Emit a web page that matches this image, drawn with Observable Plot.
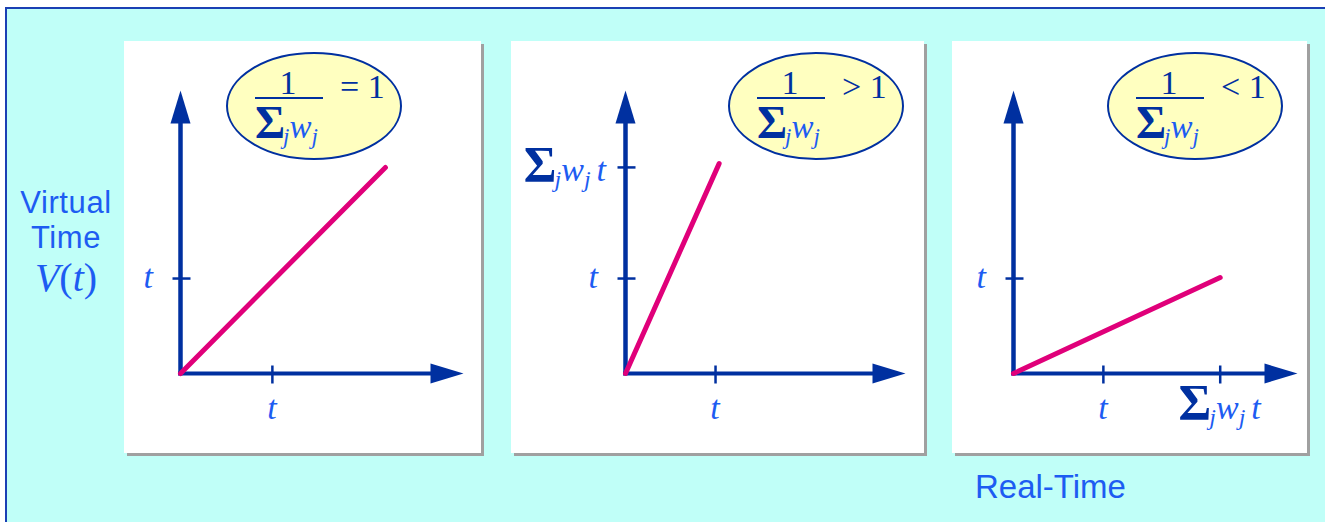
<!DOCTYPE html>
<html>
<head>
<meta charset="utf-8">
<script src="https://cdn.jsdelivr.net/npm/d3@7"></script>
<script src="https://cdn.jsdelivr.net/npm/@observablehq/plot@0.6"></script>
<style>
  html, body { margin: 0; padding: 0; background: #ffffff; width: 1325px; height: 522px; overflow: hidden; }
  #frame { position: absolute; left: 5px; top: 7px; width: 1320px; height: 515px; background: #c0fff8;
           border-top: 2px solid #1a40b4; border-left: 2px solid #1a40b4; box-sizing: border-box; }
  .panel { position: absolute; top: 41px; height: 412px; background: #ffffff; box-shadow: 3px 3px 0 #a0a0a0; }
  .panel svg { display: block; overflow: visible; }
  .ttl { position: absolute; font-family: "Liberation Sans", Arial, sans-serif; font-size: 31px; line-height: 35px;
         letter-spacing: 0.6px; color: #1d5cf2; text-align: center; white-space: nowrap; }
  .ttl.wide { font-size: 33px; line-height: 33px; letter-spacing: 0; }
  .ttl.math { font-family: "Liberation Serif", "Times New Roman", serif; font-size: 40px; line-height: 40px; letter-spacing: 0; }
</style>
</head>
<body>
<div id="frame"></div>
<div id="root"></div>
<script>
// ---------------- data ----------------
const panelNames = ["equal", "greater", "less"];
const relationLabels = ["= 1", "> 1", "< 1"];
const fractionNumerator = "1";
const fractionDenominator = "Σ_jw_j";
// virtual-time line end points, in units of t
const lineEndX = [2.23, 1.04, 2.30];
const lineEndY = [2.17, 2.21, 1.01];
// axis extents (arrow tips), in units of t
const xAxisEnd = [3.08, 3.11, 3.16];
const yAxisEnd = [2.98, 2.98, 2.98];
// ticks
const xTickValues = [[1], [1], [1, 2.30]];
const xTickLabels = [["t"], ["t"], ["t", "Σ_jw_j t"]];
const yTickValues = [[1], [1, 2.17], [1]];
const yTickLabels = [["t"], ["t", "Σ_jw_j t"], ["t"]];
// titles
const yAxisTitle = ["Virtual", "Time"];
const yAxisSymbol = "V(t)";
const xAxisTitle = "Real-Time";

// ---------------- style / layout ----------------
const NAVY = "#0030a0", BLUE = "#1d5cf2", PINK = "#e0007a";
const SERIF = "'Liberation Serif', 'Times New Roman', serif";
const PANEL_TOP = 41, PANEL_H = 412, MT = 49, MB = 80;
const layout = [
  {left: 124, width: 357, originX: 56, tipX: 339, ell: [190, 65]},
  {left: 511, width: 413, originX: 114, tipX: 394, ell: [305, 65]},
  {left: 952, width: 355, originX: 61, tipX: 345, ell: [243, 65]}
];

// custom symbols
const upHead = {draw(c) { c.moveTo(0, 0); c.lineTo(10, 33); c.lineTo(-10, 33); c.closePath(); }};
const rightHead = {draw(c) { c.moveTo(0, 0); c.lineTo(-33, -10); c.lineTo(-33, 10); c.closePath(); }};
const vTick = {draw(c) { c.moveTo(0, -8); c.lineTo(0, 10); }};
const hTick = {draw(c) { c.moveTo(-8, 0); c.lineTo(10, 0); }};

function appendMath(text, s, sz) {
  let shifted = false, pendingDx = 0;
  for (let i = 0; i < s.length; i++) {
    let ch = s[i], sub = false;
    if (ch === " ") { pendingDx += sz.space; continue; }
    if (ch === "_") { sub = true; ch = s[++i]; }
    const ts = text.append("tspan").text(ch);
    let dy = 0;
    if (sub && !shifted) { dy = sz.shift; shifted = true; }
    else if (!sub && shifted) { dy = -sz.shift; shifted = false; }
    if (dy) ts.attr("dy", dy);
    if (ch === "Σ") ts.attr("font-size", sz.sigma).attr("fill", NAVY).attr("font-style", "normal").attr("font-weight", "bold");
    else if (/[a-z]/.test(ch)) ts.attr("font-size", sub ? sz.sub : sz.main).attr("font-style", "italic").attr("fill", BLUE);
    else ts.attr("font-size", sz.main).attr("fill", NAVY).attr("font-style", "normal");
    let dx = pendingDx;
    if (sub && i >= 2 && s[i - 2] === "Σ") dx += sz.afterSigma;
    if (dx) ts.attr("dx", dx);
    pendingDx = 0;
  }
}

const labelSize = {sigma: 50, main: 34, sub: 24, shift: 6, space: 6, afterSigma: -2};
const fracSize = {sigma: 46, main: 33, sub: 23, shift: 6, space: 5, afterSigma: -2};

function tickLabels(values, labels, axis) {
  return (index, scales) => {
    const g = d3.create("svg:g").attr("font-family", SERIF);
    values.forEach((v, k) => {
      const lab = labels[k];
      const t = g.append("text");
      if (axis === "x") {
        t.attr("x", scales.x(v)).attr("y", scales.y(0) + 46).attr("text-anchor", "middle");
      } else {
        const rich = lab.includes("Σ");
        t.attr("x", scales.x(0) - (rich ? 19 : 27)).attr("y", scales.y(v) + (rich ? 14 : 10)).attr("text-anchor", "end");
      }
      appendMath(t, lab, labelSize);
    });
    return g.node();
  };
}

function ratioBadge(i) {
  return () => {
    const [cx, cy] = layout[i].ell;
    const g = d3.create("svg:g").attr("font-family", SERIF).attr("text-anchor", "start");
    g.append("ellipse").attr("cx", cx).attr("cy", cy).attr("rx", 87).attr("ry", 53)
      .attr("fill", "#ffffc0").attr("stroke", NAVY).attr("stroke-width", 2);
    g.append("text").attr("x", cx - 26).attr("y", cy - 12).attr("text-anchor", "middle")
      .attr("font-size", 34).attr("fill", NAVY).text(fractionNumerator);
    g.append("line").attr("x1", cx - 59).attr("x2", cx + 9).attr("y1", cy - 8).attr("y2", cy - 8)
      .attr("stroke", NAVY).attr("stroke-width", 2);
    const den = g.append("text").attr("x", cx - 59).attr("y", cy + 32).attr("text-anchor", "start");
    appendMath(den, fractionDenominator, fracSize);
    g.append("text").attr("x", cx + 26).attr("y", cy - 8).attr("text-anchor", "start")
      .attr("font-size", 34).attr("fill", NAVY)
      .style("white-space", "pre").text(relationLabels[i]);
    return g.node();
  };
}

const root = document.getElementById("root");
panelNames.forEach((name, i) => {
  const L = layout[i];
  const unitY = (PANEL_H - MT - MB) / yAxisEnd[i];
  const unitX = (L.tipX - L.originX) / xAxisEnd[i];
  const div = document.createElement("div");
  div.className = "panel";
  div.style.left = L.left + "px";
  div.style.width = L.width + "px";
  const chart = Plot.plot({
    width: L.width,
    height: PANEL_H,
    marginLeft: L.originX,
    marginRight: L.width - L.tipX,
    marginTop: MT,
    marginBottom: MB,
    x: {domain: [0, xAxisEnd[i]], axis: null},
    y: {domain: [0, yAxisEnd[i]], axis: null},
    style: {background: "transparent", overflow: "visible"},
    marks: [
      Plot.ruleX([0], {y1: 0, y2: yAxisEnd[i] - 25 / unitY, stroke: NAVY, strokeWidth: 4.5, strokeLinecap: "square"}),
      Plot.ruleY([0], {x1: 0, x2: xAxisEnd[i] - 25 / unitX, stroke: NAVY, strokeWidth: 4, strokeLinecap: "square"}),
      Plot.dot([yAxisEnd[i]], {x: 0, y: d => d, symbol: upHead, fill: NAVY, stroke: "none"}),
      Plot.dot([xAxisEnd[i]], {x: d => d, y: 0, symbol: rightHead, fill: NAVY, stroke: "none"}),
      Plot.dot(xTickValues[i], {x: d => d, y: 0, symbol: vTick, fill: "none", stroke: NAVY, strokeWidth: 2.5}),
      Plot.dot(yTickValues[i], {x: 0, y: d => d, symbol: hTick, fill: "none", stroke: NAVY, strokeWidth: 2.5}),
      Plot.line([[0, 0], [lineEndX[i], lineEndY[i]]], {stroke: PINK, strokeWidth: 5, strokeLinecap: "round"}),
      tickLabels(xTickValues[i], xTickLabels[i], "x"),
      tickLabels(yTickValues[i], yTickLabels[i], "y"),
      ratioBadge(i)
    ]
  });
  div.appendChild(chart);
  root.appendChild(div);
});

// axis titles
function addTitle(html, cls, left, top, width) {
  const d = document.createElement("div");
  d.className = cls;
  d.style.left = left + "px"; d.style.top = top + "px";
  if (width) d.style.width = width + "px";
  d.innerHTML = html;
  root.appendChild(d);
}
addTitle(yAxisTitle.join("<br>"), "ttl", 16, 185, 100);
addTitle(yAxisSymbol.replace(/([A-Za-z])/g, "<i>$1</i>"), "ttl math", 16, 258, 100);
addTitle(xAxisTitle, "ttl wide", 975, 470);
</script>
</body>
</html>
